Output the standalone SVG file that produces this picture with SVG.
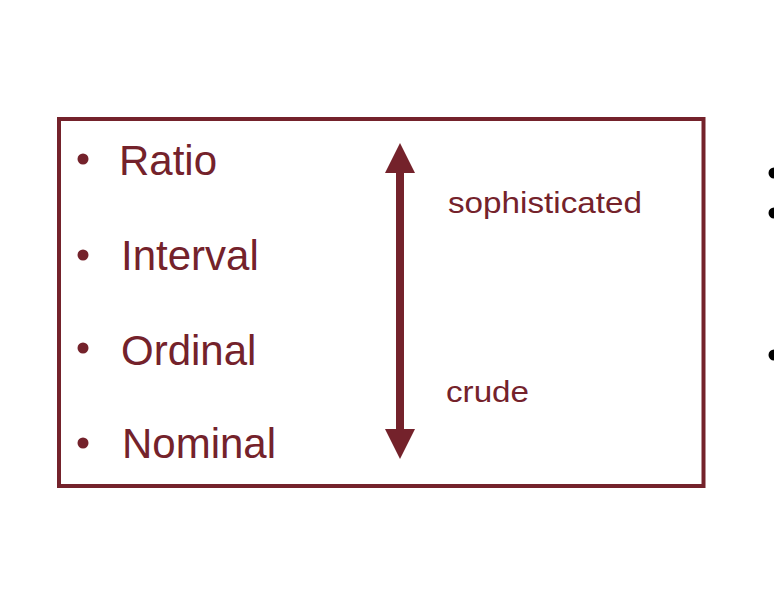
<svg xmlns="http://www.w3.org/2000/svg" width="774" height="598" viewBox="0 0 774 598">
  <style>
    .frame { fill: none; stroke: #74222b; stroke-width: 4; }
    .item { font-family: "Liberation Sans", Arial, sans-serif; font-size: 42px; fill: #74222b; }
    .note { font-family: "Liberation Sans", Arial, sans-serif; font-size: 30px; fill: #74222b; }
    .dot { fill: #74222b; }
    .edge-dot { fill: #000000; }
    .arrow { fill: #74222b; }
  </style>
  <rect width="774" height="598" fill="#ffffff"/>

  <!-- framed list of measurement scales -->
  <g id="scale-box">
    <rect class="frame" x="59" y="119" width="644.5" height="367"/>
  </g>

  <g id="item-ratio">
    <circle class="dot" cx="83" cy="159" r="5.5"/>
    <text class="item" x="119" y="175">Ratio</text>
  </g>
  <g id="item-interval">
    <circle class="dot" cx="83" cy="255" r="5.5"/>
    <text class="item" x="121" y="270">Interval</text>
  </g>
  <g id="item-ordinal">
    <circle class="dot" cx="83" cy="348" r="5.5"/>
    <text class="item" x="121" y="365">Ordinal</text>
  </g>
  <g id="item-nominal">
    <circle class="dot" cx="83" cy="443" r="5.5"/>
    <text class="item" x="122" y="458">Nominal</text>
  </g>

  <!-- double-headed arrow between the two ends of the scale -->
  <g id="connectors">
    <rect class="arrow" x="396" y="170" width="8" height="262"/>
    <polygon class="arrow" points="400,143 415,173 385,173"/>
    <polygon class="arrow" points="400,459 415,429 385,429"/>
  </g>

  <g id="label-sophisticated">
    <text class="note" x="448" y="213" textLength="194" lengthAdjust="spacingAndGlyphs">sophisticated</text>
  </g>
  <g id="label-crude">
    <text class="note" x="446" y="402" textLength="83" lengthAdjust="spacingAndGlyphs">crude</text>
  </g>

  <!-- bullets at the right edge -->
  <g id="edge-bullets">
    <circle class="edge-dot" cx="774" cy="173" r="5.5"/>
    <circle class="edge-dot" cx="774" cy="213" r="5.5"/>
    <circle class="edge-dot" cx="774" cy="355" r="5.5"/>
  </g>
</svg>
